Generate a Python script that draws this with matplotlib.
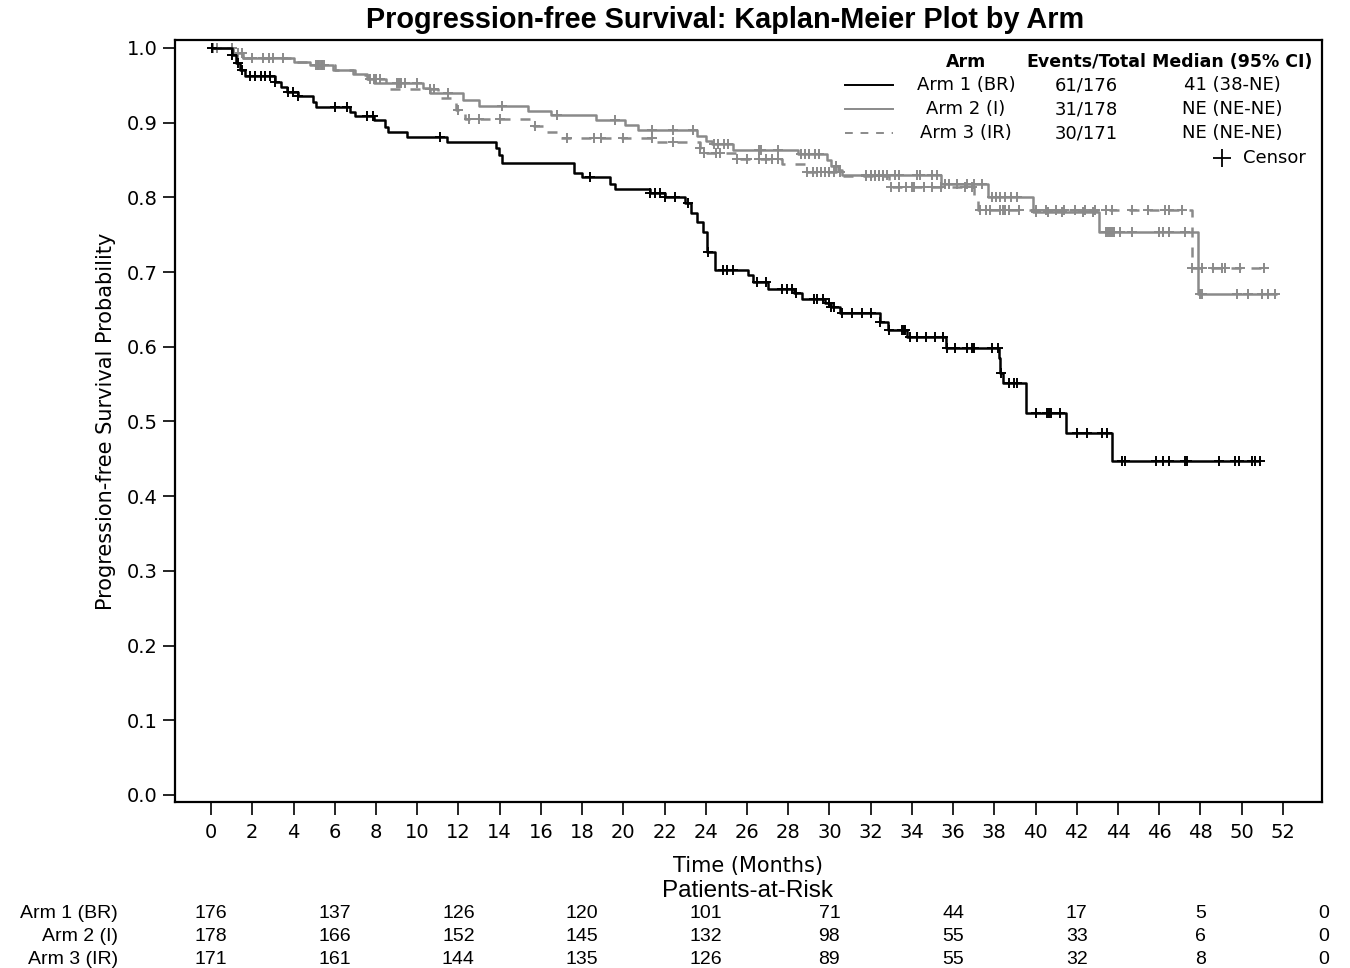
import numpy as np
import matplotlib
matplotlib.use("Agg")
import matplotlib.pyplot as plt
from matplotlib.lines import Line2D
from matplotlib.transforms import blended_transform_factory

# step-function estimates: (time in months, survival after that time)
arm1_t = [0, 1.0, 1.2, 1.4, 1.65, 3.1, 3.4, 3.7, 4.2, 4.95, 5.1, 6.75, 7.0, 7.9, 8.45, 8.6,
          9.5, 11.45, 13.8, 13.95, 14.1, 17.6, 18.0, 19.35, 19.6, 21.3, 22.0, 23.0, 23.3,
          23.6, 23.85, 24.05, 24.45, 26.05, 26.3, 27.0, 28.3, 28.65, 29.8, 30.1, 30.5,
          32.45, 32.85, 33.75, 35.65, 38.25, 38.3, 38.4, 39.52, 41.47, 43.7]
arm1_s = [1.0, 0.99, 0.98, 0.97, 0.962, 0.955, 0.948, 0.9415, 0.936, 0.928, 0.9215, 0.9147,
          0.909, 0.9036, 0.8947, 0.888, 0.881, 0.8746, 0.866, 0.857, 0.8465, 0.833, 0.8277,
          0.818, 0.8108, 0.8055, 0.801, 0.792, 0.779, 0.7675, 0.754, 0.727, 0.7028, 0.696,
          0.687, 0.678, 0.6716, 0.664, 0.658, 0.6537, 0.645, 0.6336, 0.6225, 0.6127, 0.598,
          0.585, 0.5653, 0.551, 0.511, 0.485, 0.4476]
arm1_end = 50.9

arm2_t = [0, 1.07, 1.55, 4.0, 4.8, 5.9, 6.9, 7.55, 7.9, 10.3, 10.6, 12.2, 13.0, 15.4, 16.5,
          18.7, 20.1, 20.7, 23.6, 24.0, 24.3, 25.3, 28.5, 29.9, 30.1, 30.4, 30.6, 35.4,
          37.7, 39.9, 43.1, 47.9]
arm2_s = [1.0, 0.993, 0.987, 0.981, 0.977, 0.970, 0.965, 0.959, 0.953, 0.946, 0.940, 0.931,
          0.923, 0.916, 0.910, 0.903, 0.897, 0.890, 0.882, 0.876, 0.872, 0.864, 0.858, 0.850,
          0.842, 0.836, 0.830, 0.818, 0.800, 0.781, 0.753, 0.670]
arm2_end = 51.7

arm3_t = [0, 1.07, 1.55, 4.0, 4.8, 6.0, 7.0, 7.6, 8.5, 11.0, 11.9, 12.3, 15.6, 16.3, 16.9,
          21.5, 23.7, 23.9, 25.5, 27.7, 28.8, 30.6, 32.9, 37.0, 37.2, 47.57]
arm3_s = [1.0, 0.993, 0.987, 0.981, 0.977, 0.970, 0.964, 0.958, 0.945, 0.933, 0.917, 0.905,
          0.895, 0.888, 0.880, 0.874, 0.866, 0.860, 0.852, 0.845, 0.834, 0.828, 0.814, 0.800,
          0.783, 0.705]
arm3_end = 51.2

# censoring times
arm1_cens = [0.05, 1.0, 1.3, 1.5, 1.9, 2.15, 2.4, 2.6, 2.85, 3.1, 3.75, 3.97, 4.2, 6.0, 6.6,
             7.55, 7.85, 11.1, 18.4, 21.3, 21.55, 21.8, 22.0, 22.5, 23.15, 24.1, 24.85, 25.05,
             25.3, 26.5, 26.9, 27.7, 27.95, 28.2, 28.4, 29.25, 29.4, 29.7, 30.0, 30.1, 30.2,
             30.6, 31.1, 31.6, 32.0, 32.45, 32.9, 33.5, 33.6, 33.65, 33.9, 34.25, 34.7, 35.1,
             35.5, 35.7, 36.1, 36.7, 36.9, 37.0, 37.9, 38.2, 38.35, 38.7, 38.95, 39.1, 40.0,
             40.55, 40.65, 40.75, 41.2, 42.0, 42.5, 43.25, 43.45, 44.2, 44.35, 45.85, 46.2,
             46.5, 47.25, 47.35, 48.9, 49.7, 49.85, 50.5, 50.65, 50.9]
arm2_cens = [0.1, 0.3, 1.0, 1.3, 2.0, 2.5, 3.0, 3.5, 5.1, 5.2, 5.3, 5.4, 9.0, 9.1, 9.2, 9.4,
             10.0, 11.5, 14.1, 16.8, 19.6, 21.4, 22.4, 23.4, 24.4, 24.6, 24.9, 25.1, 26.6,
             26.7, 27.5, 28.6, 28.8, 29.0, 29.3, 29.5, 30.3, 31.8, 32.0, 32.2, 32.4, 32.6,
             32.8, 33.2, 33.4, 34.25, 34.4, 35.0, 35.2, 35.6, 35.8, 36.2, 36.7, 37.0, 37.4,
             37.9, 38.1, 38.3, 38.5, 38.8, 39.1, 40.0, 40.6, 41.3, 42.3, 42.8, 43.4, 43.5,
             43.6, 43.7, 43.8, 44.1, 44.7, 46.0, 46.2, 46.5, 47.25, 48.0, 48.1, 49.8, 50.3,
             51.0, 51.3, 51.6]
arm3_cens = [0.1, 1.0, 1.5, 2.8, 5.2, 5.4, 5.5, 7.7, 7.9, 8.0, 8.2, 10.6, 10.8, 12.0, 12.5,
             13.0, 14.0, 15.7, 17.25, 18.6, 18.9, 20.0, 21.4, 22.4, 23.7, 23.9, 24.5, 24.7,
             25.5, 26.0, 26.6, 26.9, 27.2, 27.5, 28.9, 29.2, 29.4, 29.6, 29.8, 30.0, 30.2,
             30.5, 31.8, 32.0, 32.2, 32.4, 32.6, 33.0, 33.4, 33.7, 34.0, 34.1, 34.6, 35.0,
             35.4, 36.6, 36.9, 37.3, 37.6, 37.8, 38.3, 38.4, 38.5, 38.7, 39.2, 40.0, 40.5,
             41.0, 41.4, 41.9, 42.4, 42.9, 43.4, 43.7, 44.7, 45.45, 46.3, 46.5, 47.1, 47.6,
             48.1, 48.6, 49.05, 49.2, 49.9, 51.1]

arm_names = ["Arm 1 (BR)", "Arm 2 (I)", "Arm 3 (IR)"]
events_total = ["61/176", "31/178", "30/171"]
medians = ["41 (38-NE)", "NE (NE-NE)", "NE (NE-NE)"]

risk_times = [0, 6, 12, 18, 24, 30, 36, 42, 48, 54]
risk_arm1 = [176, 137, 126, 120, 101, 71, 44, 17, 5, 0]
risk_arm2 = [178, 166, 152, 145, 132, 98, 55, 33, 6, 0]
risk_arm3 = [171, 161, 144, 135, 126, 89, 55, 32, 8, 0]

GRAY = "#8a8a8a"
styles = [dict(color="black", ls="-", lw=1.8),
          dict(color=GRAY, ls="-", lw=1.8),
          dict(color=GRAY, ls=(0, (4, 4)), lw=1.8)]

fig = plt.figure(figsize=(13.5, 9.68), dpi=100)
ax = fig.add_axes([175 / 1350, 1 - 802 / 968, 1147 / 1350, 762 / 968])

arms = [(arm1_t, arm1_s, arm1_end, arm1_cens),
        (arm2_t, arm2_s, arm2_end, arm2_cens),
        (arm3_t, arm3_s, arm3_end, arm3_cens)]

# draw in reverse so arm 1 sits on top
for (t, s, t_end, cens), st in reversed(list(zip(arms, styles))):
    tt = np.append(t, t_end)
    ss = np.append(s, s[-1])
    ax.plot(tt, ss, drawstyle="steps-post", solid_capstyle="butt", **st)
    idx = np.searchsorted(t, cens, side="right") - 1
    ax.plot(cens, np.asarray(s)[idx], ls="none", marker="+", ms=7, mew=1.4,
            color=st["color"])

ax.set_xlim(-1.75, 53.9)
ax.set_ylim(-0.0094, 1.0107)
ax.set_xticks(np.arange(0, 53, 2))
ax.set_yticks(np.arange(0, 1.01, 0.1))
ax.set_yticklabels([f"{v:.1f}" for v in np.arange(0, 1.01, 0.1)])
ax.tick_params(axis="both", direction="out", length=9, width=1.2, labelsize=14,
               color="black")
ax.tick_params(axis="x", pad=6)
for sp in ax.spines.values():
    sp.set_linewidth(1.6)

ax.set_ylabel("Progression-free Survival Probability", fontsize=15, labelpad=8)

fig.text(725 / 1350, 1 - 20 / 968, "Progression-free Survival: Kaplan-Meier Plot by Arm",
         ha="center", va="center", fontsize=20.8, fontweight="bold",
         family="Liberation Sans")

# legend table inside the plot area
hdr_y = (802 - 62) / 762
row_y = [(802 - 85) / 762, (802 - 109) / 762, (802 - 133) / 762]
cx_name, cx_evt, cx_med = (966 - 175) / 1147, (1086 - 175) / 1147, (1232 - 175) / 1147
for x, lab in [(cx_name, "Arm"), (cx_evt, "Events/Total"), (cx_med, "Median (95% CI)")]:
    ax.text(x, hdr_y, lab, transform=ax.transAxes, ha="center", va="center",
            fontsize=12.5, fontweight="bold")
for i in range(3):
    st = styles[i]
    ax.add_line(Line2D([(845 - 175) / 1147, (893 - 175) / 1147], [row_y[i]] * 2,
                       transform=ax.transAxes, color=st["color"], ls=st["ls"], lw=1.4))
    ax.text(cx_name, row_y[i], arm_names[i], transform=ax.transAxes, ha="center",
            va="center", fontsize=13)
    ax.text(cx_evt, row_y[i], events_total[i], transform=ax.transAxes, ha="center",
            va="center", fontsize=13)
    ax.text(cx_med, row_y[i], medians[i], transform=ax.transAxes, ha="center",
            va="center", fontsize=13)
cens_y = (802 - 158) / 762
ax.plot([(1222 - 175) / 1147], [cens_y], marker="+", ms=13, mew=1.3, color="black",
        transform=ax.transAxes)
ax.text((1243 - 175) / 1147, cens_y, "Censor", transform=ax.transAxes, ha="left",
        va="center", fontsize=13)

# axis title and patients-at-risk table below the plot
fig.text(748 / 1350, 1 - 866 / 968, "Time (Months)", ha="center", va="center",
         fontsize=15)
fig.text(748 / 1350, 1 - 891 / 968, "Patients-at-Risk", ha="center", va="center",
         fontsize=17.5, family="Liberation Sans")
trans = blended_transform_factory(ax.transData, fig.transFigure)
for row, (name, counts) in enumerate(zip(arm_names, [risk_arm1, risk_arm2, risk_arm3])):
    fy = 1 - (914 + 22.5 * row) / 968
    fig.text(118 / 1350, fy, name, ha="right", va="center", fontsize=14,
             family="Liberation Sans")
    for t, n in zip(risk_times, counts):
        ax.text(t, fy, str(n), transform=trans, ha="center", va="center", fontsize=14,
                family="Liberation Sans", clip_on=False)

fig.savefig("out.png", dpi=100)
